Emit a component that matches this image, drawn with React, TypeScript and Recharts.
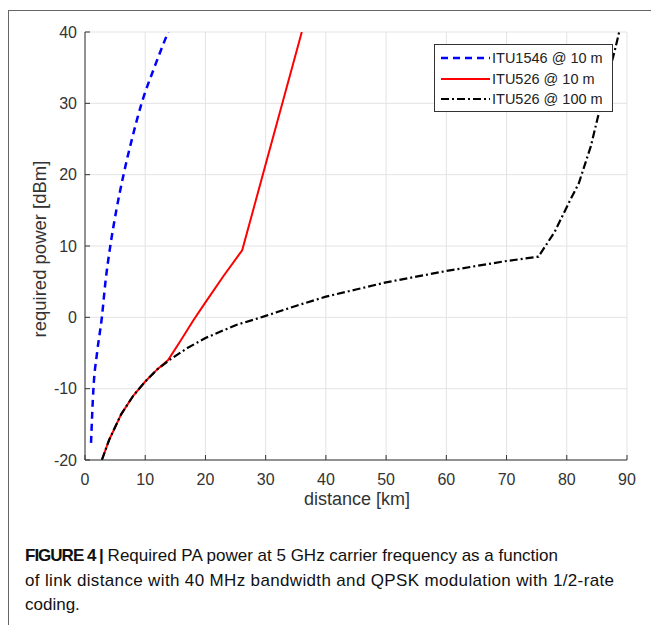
import { CartesianGrid, Line, LineChart, XAxis, YAxis } from "recharts";

// ITU1546 @ 10 m
const blueX = [1.0, 1.4, 2.0, 2.8, 3.4, 4.2, 5.2, 6.4, 7.8, 9.4, 11.5, 13.8];
const blueY = [-17.6, -10, -5, 0, 5, 10, 15, 20, 25, 30, 35, 40];

// ITU526 @ 10 m
const redX = [2.8, 4, 6, 8, 10, 12, 13.8, 16, 18, 20, 23, 26.1, 29.4, 32.6, 36.0];
const redY = [-20, -17.2, -13.6, -11, -9, -7.3, -6, -3.1, -0.4, 2.1, 5.8, 9.4, 19.6, 29.5, 40];

// ITU526 @ 100 m
const blackX = [2.8, 4, 6, 8, 10, 12, 14, 17, 20, 25, 30, 35, 40, 45, 50, 55, 60, 65, 70, 75.3, 78, 80.6, 82, 84, 86, 88, 88.7];
const blackY = [-20, -17.2, -13.6, -11, -9, -7.3, -6, -4.3, -2.9, -1.1, 0.2, 1.6, 2.9, 3.9, 4.9, 5.7, 6.5, 7.2, 7.9, 8.5, 12, 16.5, 18.8, 24, 31, 37.5, 40];

const xTicks = [0, 10, 20, 30, 40, 50, 60, 70, 80, 90];
const yTicks = [-20, -10, 0, 10, 20, 30, 40];

const legendItems = [
  { label: "ITU1546 @ 10 m", color: "#0000ff", dash: "7 5", w: 2.5 },
  { label: "ITU526 @ 10 m", color: "#ff0000", dash: undefined, w: 2 },
  { label: "ITU526 @ 100 m", color: "#000", dash: "8 3 2 3", w: 2.2 },
];

const toPts = (xs: number[], ys: number[]) => xs.map((x, i) => ({ x, y: ys[i] }));

const font = "Liberation Sans, Arial, sans-serif";
const axisColor = "#333";
const tickStyle = { fill: "#333", fontSize: 16, fontFamily: font };

export default function App() {
  const blue = toPts(blueX, blueY);
  const red = toPts(redX, redY);
  const black = toPts(blackX, blackY);

  return (
    <div style={{ position: "absolute", left: 0, top: 0, width: 651, height: 625, background: "#fff", overflow: "hidden" }}>
      {/* figure frame */}
      <div style={{ position: "absolute", left: 8, top: 10, width: 700, height: 700, borderTop: "1px solid #666", borderLeft: "1px solid #666" }} />
      <LineChart width={651} height={625} margin={{ top: 32, right: 24, bottom: 135, left: 45 }} style={{ position: "absolute", left: 0, top: 0 }}>
        <CartesianGrid stroke="#e3e3e3" horizontalValues={yTicks} verticalValues={xTicks} />
        <XAxis
          dataKey="x"
          type="number"
          domain={[0, 90]}
          ticks={xTicks}
          allowDataOverflow
          height={30}
          stroke={axisColor}
          tick={tickStyle}
          tickSize={-5}
          tickMargin={19}
        />
        <XAxis
          xAxisId="top"
          orientation="top"
          type="number"
          domain={[0, 90]}
          ticks={xTicks}
          allowDataOverflow
          height={0}
          stroke={axisColor}
          tick={false}
          tickSize={-5}
        />
        <YAxis
          type="number"
          domain={[-20, 40]}
          ticks={yTicks}
          allowDataOverflow
          width={40}
          stroke={axisColor}
          tick={tickStyle}
          tickSize={-5}
          tickMargin={13}
        />
        <YAxis
          yAxisId="right"
          orientation="right"
          type="number"
          domain={[-20, 40]}
          ticks={yTicks}
          allowDataOverflow
          width={0}
          stroke={axisColor}
          tick={false}
          tickSize={-5}
        />
        <Line data={blue} dataKey="y" type="monotone" stroke="#0000ff" strokeWidth={2.5} strokeDasharray="7 5" dot={false} isAnimationActive={false} />
        <Line data={red} dataKey="y" type="linear" stroke="#ff0000" strokeWidth={2} dot={false} isAnimationActive={false} />
        <Line data={black} dataKey="y" type="linear" stroke="#000" strokeWidth={2.2} strokeDasharray="8 3 2 3" dot={false} isAnimationActive={false} />
      </LineChart>

      {/* axis labels */}
      <div style={{ position: "absolute", left: 40, top: 249, transform: "translate(-50%, -50%) rotate(-90deg)", whiteSpace: "nowrap", fontFamily: font, fontSize: 18.5, color: "#333" }}>
        required power [dBm]
      </div>
      <div style={{ position: "absolute", left: 357, top: 499, transform: "translate(-50%, -50%)", whiteSpace: "nowrap", fontFamily: font, fontSize: 18, color: "#333" }}>
        distance [km]
      </div>

      {/* legend */}
      <div style={{ position: "absolute", left: 434, top: 44, width: 177, height: 66, border: "1px solid #333", background: "#fff", fontFamily: font, fontSize: 14.5, color: "#222" }}>
        {legendItems.map((e, i) => (
          <div key={i} style={{ position: "absolute", left: 5, top: 3 + i * 20.5, height: 20, display: "flex", alignItems: "center" }}>
            <svg width={50} height={20}>
              <line x1={1} y1={10} x2={50} y2={10} stroke={e.color} strokeWidth={e.w} strokeDasharray={e.dash} />
            </svg>
            <span style={{ marginLeft: 2, whiteSpace: "nowrap" }}>{e.label}</span>
          </div>
        ))}
      </div>

      {/* caption */}
      <div style={{ position: "absolute", left: 25, top: 544, width: 603, fontFamily: font, fontSize: 17, lineHeight: "24.5px", color: "#111" }}>
        <div style={{ whiteSpace: "nowrap" }}>
          <b style={{ letterSpacing: -1 }}>FIGURE 4 |</b> Required PA power at 5 GHz carrier frequency as a function
        </div>
        <div style={{ whiteSpace: "nowrap", letterSpacing: 0.35 }}>
          of link distance with 40 MHz bandwidth and QPSK modulation with 1/2-rate
        </div>
        <div>coding.</div>
      </div>
    </div>
  );
}
